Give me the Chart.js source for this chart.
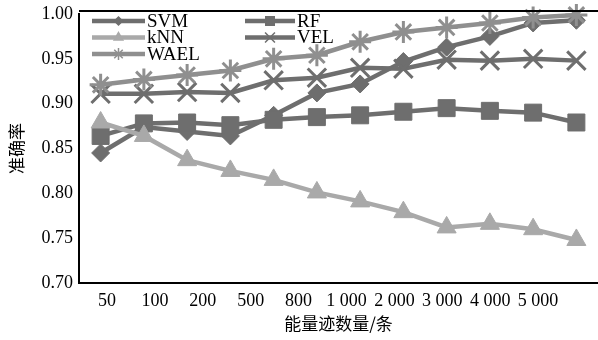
<!DOCTYPE html>
<html>
<head>
<meta charset="utf-8">
<script src="https://cdn.jsdelivr.net/npm/chart.js@4"></script>
<style>
    html, body { margin: 0; padding: 0; background: #fff; }
    #wrap { width: 598px; height: 340px; }
</style>
</head>
<body>
<div id="wrap"><canvas id="chart" width="598" height="340"></canvas></div>
<script>
// tick labels under the x axis (10 of them, 12 points per series)
const tickLabels = ['50', '100', '200', '500', '800', '1 000', '2 000', '3 000', '4 000', '5 000'];
const seriesNames = ['SVM', 'RF', 'kNN', 'VEL', 'WAEL'];

const svm  = [0.845, 0.874, 0.869, 0.864, 0.887, 0.912, 0.922, 0.947, 0.963, 0.975, 0.990, 0.993];
const rf   = [0.864, 0.878, 0.879, 0.876, 0.882, 0.885, 0.887, 0.891, 0.895, 0.892, 0.890, 0.879];
const knn  = [0.879, 0.864, 0.837, 0.825, 0.815, 0.801, 0.791, 0.779, 0.762, 0.766, 0.760, 0.748];
const vel  = [0.911, 0.911, 0.913, 0.912, 0.926, 0.929, 0.940, 0.939, 0.949, 0.948, 0.950, 0.948];
const wael = [0.921, 0.927, 0.932, 0.937, 0.950, 0.954, 0.969, 0.980, 0.985, 0.990, 0.996, 0.999];

const yTicks = [0.70, 0.75, 0.80, 0.85, 0.90, 0.95, 1.00];

const DARK = '#6e6e6e';
const LIGHT = '#a9a9a9';
const MID = '#8f8f8f';

const styles = [
    { color: DARK,  point: 'rectRot',  radius: 9,  legendRadius: 4 },
    { color: DARK,  point: 'rect',     radius: 12, legendRadius: 6 },
    { color: LIGHT, point: 'triangle', radius: 11, legendRadius: 5 },
    { color: DARK,  point: 'crossRot', radius: 13, legendRadius: 7 },
    { color: MID,   point: 'star',     radius: 11, legendRadius: 6 }
];
const allSeries = [svm, rf, knn, vel, wael];

const serif = '"Liberation Serif", "DejaVu Serif", serif';
const cjk = '"Noto Sans CJK SC", sans-serif';

const datasets = allSeries.map((values, i) => {
    const s = styles[i];
    const isLine = s.point === 'crossRot' || s.point === 'star';
    return {
        label: seriesNames[i],
        data: values.map((v, j) => ({ x: j, y: v })),
        borderColor: s.color,
        backgroundColor: s.color,
        borderWidth: 4.5,
        pointStyle: s.point,
        pointRadius: s.radius,
        pointBorderWidth: isLine ? 3 : 1,
        pointBorderColor: s.color,
        pointBackgroundColor: s.color,
        tension: 0,
        clip: false,
        order: 10 - i
    };
});

// legend inside the plot, two columns, line + small marker
const insideLegend = {
    id: 'insideLegend',
    afterDraw(chart) {
        const ctx = chart.ctx;
        ctx.save();
        datasets.forEach((ds, i) => {
            const col = i % 2;
            const row = Math.floor(i / 2);
            const x0 = col === 0 ? 92 : 245;
            const x1 = col === 0 ? 145 : 295;
            const y = 21 + row * 16.5;
            ctx.strokeStyle = ds.borderColor;
            ctx.fillStyle = ds.borderColor;
            ctx.lineWidth = 4.5;
            ctx.beginPath();
            ctx.moveTo(x0, y);
            ctx.lineTo(x1, y);
            ctx.stroke();
            ctx.lineWidth = 1.5;
            Chart.helpers.drawPoint(ctx, {
                pointStyle: styles[i].point,
                radius: styles[i].legendRadius,
                borderWidth: 1.5
            }, (x0 + x1) / 2, y);
            ctx.fillStyle = '#000';
            ctx.font = '19px ' + serif;
            ctx.textBaseline = 'middle';
            ctx.textAlign = 'left';
            ctx.fillText(ds.label, x1 + 2, y + 1);
        });
        // top frame line
        const area = chart.chartArea;
        ctx.strokeStyle = '#000';
        ctx.lineWidth = 2;
        ctx.beginPath();
        ctx.moveTo(area.left, 11);
        ctx.lineTo(598, 11);
        ctx.stroke();
        ctx.restore();
    }
};

new Chart(document.getElementById('chart'), {
    type: 'line',
    data: { datasets },
    options: {
        responsive: false,
        animation: false,
        layout: { autoPadding: false, padding: { top: 14, right: 0, left: 0, bottom: 0 } },
        plugins: {
            legend: { display: false },
            tooltip: { enabled: false }
        },
        scales: {
            x: {
                type: 'linear',
                display: false,
                min: -0.5,
                max: 11.5
            },
            xLabels: {
                type: 'linear',
                position: 'bottom',
                min: -0.585,
                max: 10.25,
                grid: { display: false, drawTicks: false },
                border: { display: true, color: '#000', width: 2 },
                afterBuildTicks(scale) {
                    scale.ticks = tickLabels.map((_, i) => ({ value: i }));
                },
                afterFit(scale) {
                    scale.height = 57;
                    scale.paddingLeft = 0;
                    scale.paddingRight = 0;
                },
                ticks: {
                    autoSkip: false,
                    maxRotation: 0,
                    padding: 7,
                    color: '#000',
                    font: { family: serif, size: 18 },
                    callback: (v) => tickLabels[v]
                },
                title: {
                    display: true,
                    text: '能量迹数量/条',
                    color: '#000',
                    font: { family: cjk, size: 17 },
                    padding: { top: 0, bottom: 6 }
                }
            },
            y: {
                min: 0.70,
                max: 1.00,
                afterBuildTicks(scale) {
                    scale.ticks = yTicks.map(v => ({ value: v }));
                },
                afterFit(scale) {
                    scale.width = 79;
                    scale.paddingTop = 0;
                    scale.paddingBottom = 0;
                },
                grid: { display: false, drawTicks: false },
                border: { display: true, color: '#000', width: 2 },
                ticks: {
                    padding: 6,
                    color: '#000',
                    font: { family: serif, size: 18 },
                    callback: (v) => v.toFixed(2)
                },
                title: {
                    display: true,
                    text: '准确率',
                    color: '#000',
                    font: { family: cjk, size: 17 },
                    padding: { top: 6, bottom: 0 }
                }
            }
        }
    },
    plugins: [insideLegend]
});
</script>
</body>
</html>
